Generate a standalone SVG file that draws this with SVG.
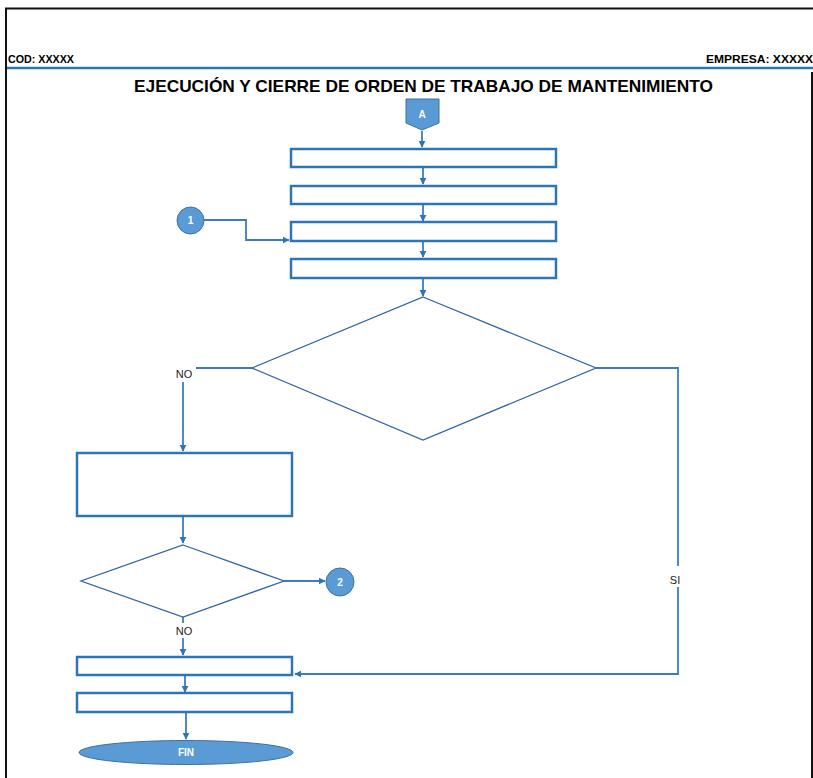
<svg xmlns="http://www.w3.org/2000/svg" width="813" height="778" viewBox="0 0 813 778">
<style>
.box{fill:#fff;stroke:#2E75B6;stroke-width:2.5}
.dia{fill:#fff;stroke:#2F63A8;stroke-width:1.3}
.sh{fill:#5B9BD5;stroke:#41719C;stroke-width:1}
.ln{fill:none;stroke:#3B7CC4;stroke-width:1.8}
.wt{fill:#fff;font-family:"Liberation Sans",Arial,sans-serif;font-weight:bold;font-size:10px;text-anchor:middle}
.lb{fill:#222;font-family:"Liberation Sans",Arial,sans-serif;font-size:11px;text-anchor:middle}
.hd{fill:#000;font-family:"Liberation Sans",Arial,sans-serif;font-weight:bold}
</style>
<defs>
<marker id="ar" viewBox="0 0 10 10" refX="9" refY="5" markerWidth="4" markerHeight="4" orient="auto" markerUnits="strokeWidth">
<path d="M0,0 L10,5 L0,10 z" fill="#2E75B6"/>
</marker>
</defs>
<rect width="813" height="778" fill="#fff"/>
<g id="frame">
<line x1="5" y1="8.5" x2="813" y2="8.5" stroke="#111" stroke-width="2"/>
<line x1="6" y1="8" x2="6" y2="778" stroke="#111" stroke-width="2"/>
<line x1="7" y1="68" x2="813" y2="68" stroke="#2E75B6" stroke-width="2.5"/>
<line x1="812" y1="72" x2="812" y2="778" stroke="#111" stroke-width="2"/>
<text class="hd" x="8" y="63" font-size="10" textLength="66" lengthAdjust="spacingAndGlyphs">COD: XXXXX</text>
<text class="hd" x="706" y="63" font-size="10" textLength="107" lengthAdjust="spacingAndGlyphs">EMPRESA: XXXXX</text>
<text class="hd" x="134" y="92" font-size="17" textLength="579" lengthAdjust="spacingAndGlyphs">EJECUCIÓN Y CIERRE DE ORDEN DE TRABAJO DE MANTENIMIENTO</text>
</g>
<g id="connectors">
<line class="ln" x1="422" y1="131" x2="422" y2="147" marker-end="url(#ar)"/>
<line class="ln" x1="423" y1="168" x2="423" y2="184" marker-end="url(#ar)"/>
<line class="ln" x1="423" y1="205" x2="423" y2="221" marker-end="url(#ar)"/>
<line class="ln" x1="423" y1="242" x2="423" y2="257" marker-end="url(#ar)"/>
<polyline class="ln" points="204,220 246,220 246,240 289,240" marker-end="url(#ar)"/>
<line class="ln" x1="423" y1="279" x2="423" y2="296" marker-end="url(#ar)"/>
<polyline class="ln" points="252,368 196,368"/>
<line class="ln" x1="183" y1="382" x2="183" y2="451" marker-end="url(#ar)"/>
<line class="ln" x1="183" y1="517" x2="183" y2="543" marker-end="url(#ar)"/>
<line class="ln" x1="284" y1="581" x2="325" y2="581" marker-end="url(#ar)"/>
<line class="ln" x1="183" y1="617" x2="183" y2="623"/>
<line class="ln" x1="183" y1="638" x2="183" y2="655" marker-end="url(#ar)"/>
<line class="ln" x1="185" y1="676" x2="185" y2="692" marker-end="url(#ar)"/>
<line class="ln" x1="186" y1="713" x2="186" y2="739" marker-end="url(#ar)"/>
<polyline class="ln" points="596,368 678,368 678,566"/>
<polyline class="ln" points="678,587 678,674 295,674" marker-end="url(#ar)"/>
<text class="lb" x="184" y="378">NO</text>
<text class="lb" x="184" y="635">NO</text>
<text class="lb" x="675" y="584">SI</text>
</g>
<g id="nodeA">
<path class="sh" d="M406,99 H439 V123 L422,130 L406,123 Z"/>
<text class="wt" x="422" y="118">A</text>
</g>
<g id="box1"><rect class="box" x="291" y="149" width="265" height="18"/></g>
<g id="box2"><rect class="box" x="291" y="186" width="265" height="18"/></g>
<g id="box3"><rect class="box" x="291" y="222" width="265" height="19"/></g>
<g id="box4"><rect class="box" x="291" y="259" width="265" height="19"/></g>
<g id="conn1">
<circle class="sh" cx="190.5" cy="220.5" r="13.5"/>
<text class="wt" x="190.5" y="224">1</text>
</g>
<g id="decision1"><polygon class="dia" points="423,297 596,368 423,440 252,368"/></g>
<g id="box5"><rect class="box" x="77" y="453" width="215" height="63"/></g>
<g id="decision2"><polygon class="dia" points="183,545 284,581 183,617 81,581"/></g>
<g id="conn2">
<circle class="sh" cx="340" cy="582" r="14"/>
<text class="wt" x="340" y="585.5">2</text>
</g>
<g id="box6"><rect class="box" x="77" y="657" width="215" height="18"/></g>
<g id="box7"><rect class="box" x="77" y="693" width="215" height="19"/></g>
<g id="fin">
<ellipse class="sh" cx="186" cy="752.5" rx="107" ry="12"/>
<text class="wt" x="186" y="756">FIN</text>
</g>
</svg>
